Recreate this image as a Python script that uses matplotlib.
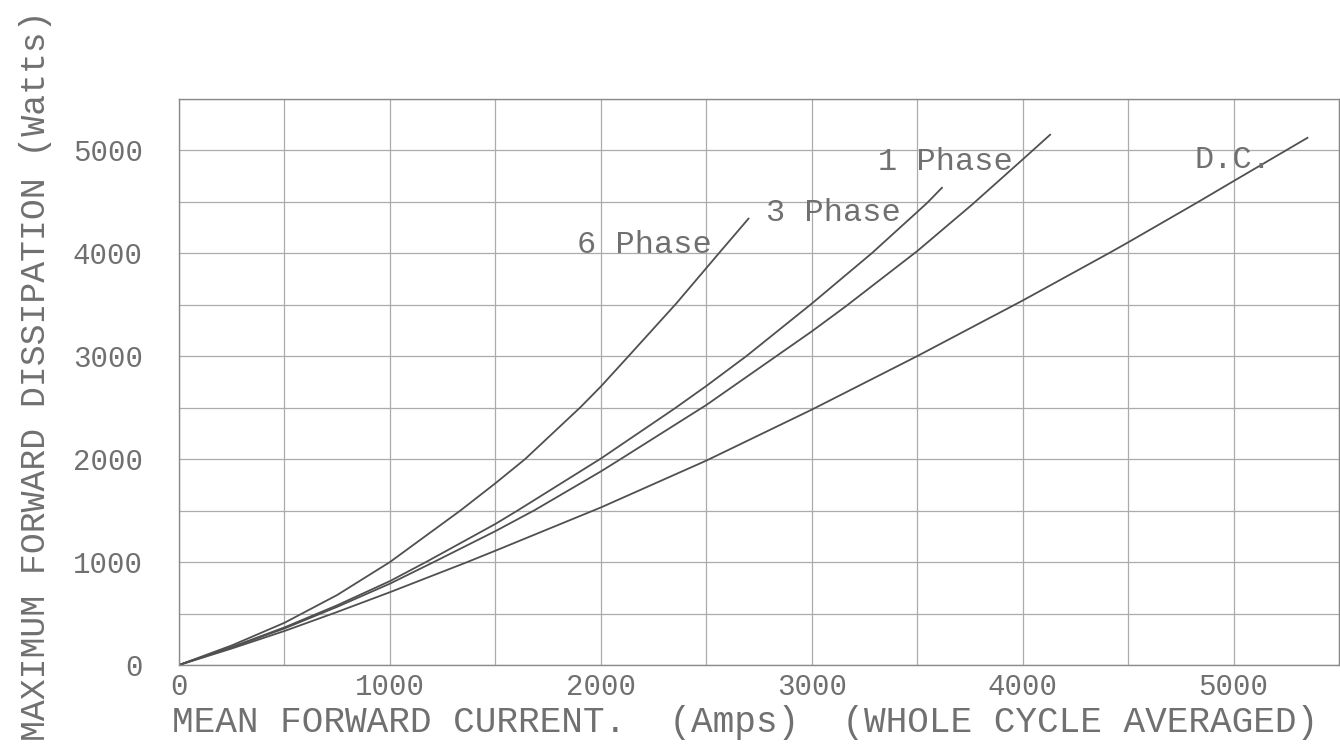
import matplotlib
matplotlib.use("Agg")
import matplotlib.pyplot as plt
from matplotlib.ticker import MultipleLocator

# ---- data (Amps, Watts) ----
phase6_x = [0, 250, 500, 750, 1000, 1334, 1500, 1641, 1904, 2000, 2127, 2357, 2500, 2560, 2700]
phase6_y = [0, 190, 410, 680, 1000, 1500, 1765, 2000, 2505, 2705, 2990, 3510, 3855, 4000, 4335]

phase3_x = [0, 250, 500, 750, 1000, 1171, 1500, 1605, 2000, 2349, 2500, 2690, 3000, 3285, 3500, 3548, 3617]
phase3_y = [0, 175, 365, 580, 815, 1000, 1370, 1500, 2005, 2490, 2710, 3000, 3510, 4000, 4400, 4490, 4635]

phase1_x = [0, 250, 500, 750, 1000, 1208, 1500, 1687, 2000, 2090, 2500, 3000, 3159, 3500, 3762, 4000, 4130]
phase1_y = [0, 170, 355, 565, 790, 1000, 1300, 1505, 1880, 1995, 2525, 3240, 3480, 4020, 4475, 4910, 5150]

dc_x = [0, 250, 500, 750, 1000, 1361, 1500, 2000, 2500, 3000, 3500, 4000, 4409, 4500, 4826, 5000, 5350]
dc_y = [0, 160, 330, 515, 707, 995, 1110, 1530, 1985, 2480, 3000, 3540, 4000, 4105, 4490, 4700, 5120]

curve_labels = ["6 Phase", "3 Phase", "1 Phase", "D.C."]
label_x = [2204, 3104, 3635, 4995]
label_y = [4000, 4310, 4810, 4830]

x_ticks = [0, 1000, 2000, 3000, 4000, 5000]
y_ticks = [0, 1000, 2000, 3000, 4000, 5000]
x_label = "MEAN FORWARD CURRENT.  (Amps)  (WHOLE CYCLE AVERAGED)"
y_label = "MAXIMUM FORWARD DISSIPATION (Watts)"

FONT = ["Liberation Mono", "DejaVu Sans Mono"]
TXT = "#707070"
GRID = "#ababab"
LINE = "#505050"

fig = plt.figure(figsize=(13.4, 7.45), dpi=100)
ax = fig.add_axes([0.1336, 0.1074, 0.8657, 0.7601])

ax.set_xlim(0, 5500)
ax.set_ylim(0, 5500)
ax.xaxis.set_minor_locator(MultipleLocator(500))
ax.yaxis.set_minor_locator(MultipleLocator(500))
ax.set_xticks(x_ticks)
ax.set_yticks(y_ticks)
ax.set_xticklabels([str(v) for v in x_ticks])
ax.set_yticklabels([str(v) for v in y_ticks])
ax.grid(True, which="both", color=GRID, linewidth=0.9)
ax.set_axisbelow(True)
ax.tick_params(which="both", length=0)
ax.tick_params(axis="x", pad=6)
ax.tick_params(axis="y", pad=26)
for lab in ax.get_xticklabels() + ax.get_yticklabels():
    lab.set_family(FONT)
    lab.set_fontsize(21)
    lab.set_color(TXT)
for sp in ax.spines.values():
    sp.set_color("#8a8a8a")
    sp.set_linewidth(1.0)

for xs, ys in [(phase6_x, phase6_y), (phase3_x, phase3_y),
               (phase1_x, phase1_y), (dc_x, dc_y)]:
    ax.plot(xs, ys, color=LINE, linewidth=1.3, solid_joinstyle="round")

for t, lx, ly in zip(curve_labels, label_x, label_y):
    ax.text(lx, ly, t, ha="center", va="baseline", family=FONT,
            fontsize=23, color=TXT)

fig.text(745 / 1340, 1 - 722 / 745, x_label, ha="center", va="center",
         family=FONT, fontsize=26, color=TXT)
fig.text(36 / 1340, 1 - 376 / 745, y_label, ha="center", va="center",
         rotation=90, family=FONT, fontsize=25, color=TXT)

fig.savefig("out.png", dpi=100, facecolor="white")
